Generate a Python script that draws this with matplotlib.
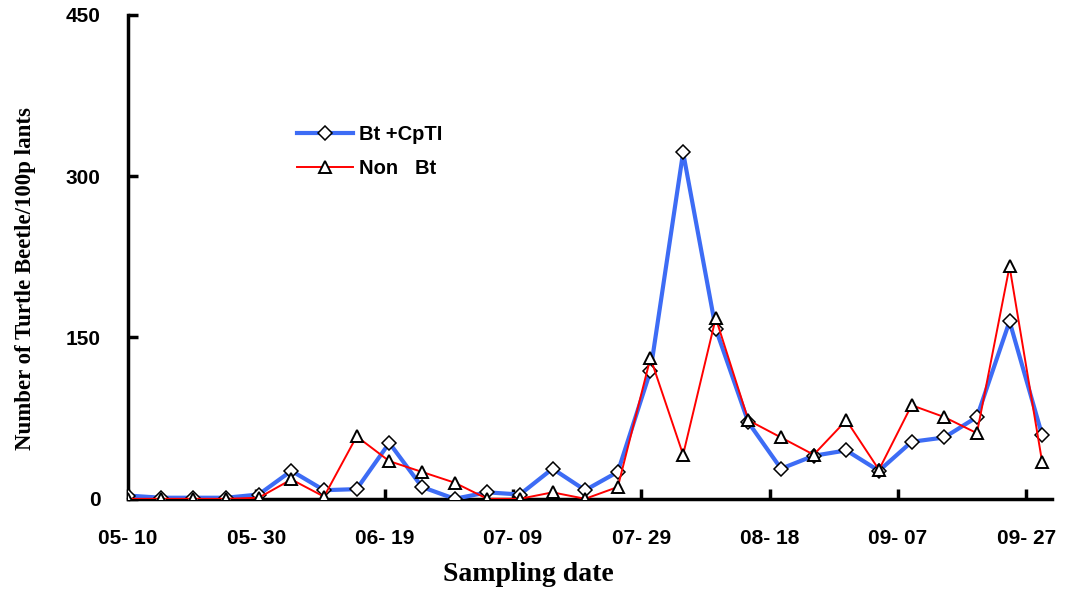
import numpy as np
import matplotlib
matplotlib.use("Agg")
import matplotlib.pyplot as plt

# -----------------------------
# data (one point every 5 days from 05-10)
# -----------------------------
bt_cpti = [3, 1, 1, 1, 4, 26, 8, 9, 52, 11, 0, 6, 4, 28, 8, 25,
           119, 322, 158, 71, 28, 40, 45, 26, 53, 57, 76, 165, 59]
non_bt = [0, 0, 0, 0, 1, 18, 2, 58, 35, 25, 15, 0, 0, 6, 0, 11,
          131, 41, 168, 73, 57, 41, 73, 27, 87, 76, 61, 216, 34]
tick_labels = ["05- 10", "05- 30", "06- 19", "07- 09",
               "07- 29", "08- 18", "09- 07", "09- 27"]
y_ticks = [0, 150, 300, 450]

x = np.arange(len(bt_cpti))
tick_pos = np.arange(len(tick_labels)) * 3.93

# -----------------------------
# figure
# -----------------------------
fig = plt.figure(figsize=(10.68, 5.91), dpi=100)
ax = fig.add_axes([0.12, 0.156, 0.865, 0.819])

ax.plot(x, bt_cpti, color="#3d6cf5", lw=3, marker="D", ms=7.5,
        mfc="white", mec="black", mew=1.1, label="Bt +CpTI", zorder=3)
ax.plot(x, non_bt, color="red", lw=1.4, marker="^", ms=9,
        mfc="white", mec="black", mew=1.4, label="Non   Bt", zorder=4)

ax.set_xlim(0, 28.3)
ax.set_ylim(0, 450)
ax.set_xticks(tick_pos)
ax.set_xticklabels(tick_labels)
ax.set_yticks(y_ticks)

for s in ["top", "right"]:
    ax.spines[s].set_visible(False)
for s in ["left", "bottom"]:
    ax.spines[s].set_linewidth(2.5)

ax.tick_params(direction="in", length=7, width=2.5)
for lab in ax.get_xticklabels() + ax.get_yticklabels():
    lab.set_family("Liberation Sans")
    lab.set_fontweight("bold")
    lab.set_fontsize(15)
ax.tick_params(axis="x", pad=22)
ax.tick_params(axis="y", pad=20)

ax.set_xlabel("Sampling date", family="Liberation Serif", fontweight="bold",
              fontsize=20)
ax.xaxis.set_label_coords(0.433, -0.13)
ax.set_ylabel("Number of Turtle Beetle/100p lants", family="Liberation Serif",
              fontweight="bold", fontsize=16.5)
ax.yaxis.set_label_coords(-0.1, 0.455)

leg = ax.legend(loc="upper left", bbox_to_anchor=(0.163, 0.81), frameon=False,
                prop={"family": "Liberation Sans", "weight": "bold", "size": 14.5},
                handlelength=2.8, labelspacing=0.75, handletextpad=0.3)

fig.savefig("out.png", dpi=100)
